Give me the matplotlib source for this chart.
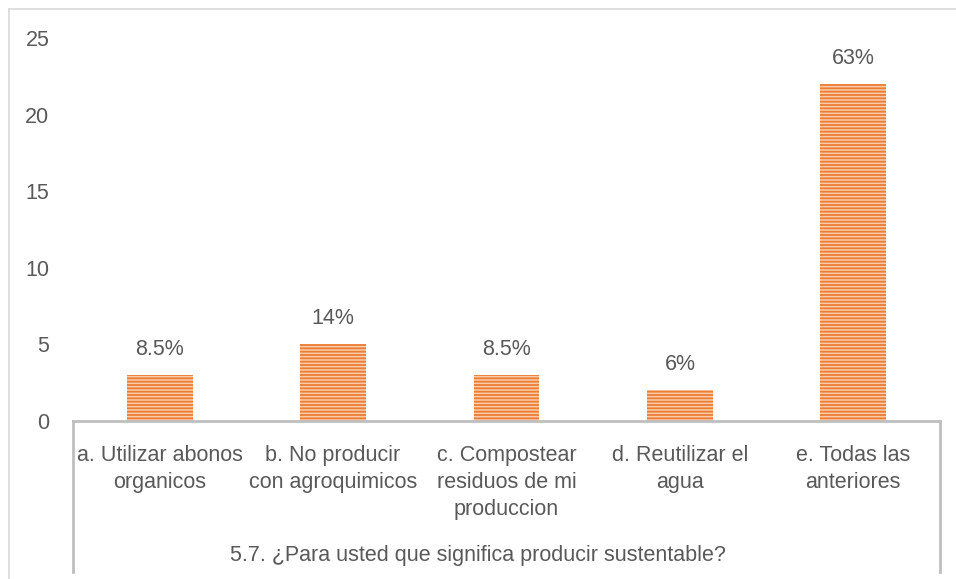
import matplotlib
matplotlib.use("Agg")
import matplotlib.pyplot as plt
from matplotlib.lines import Line2D

plt.rcParams["font.family"] = ["Liberation Sans Narrow", "Liberation Sans", "DejaVu Sans"]
plt.rcParams["hatch.linewidth"] = 1.3

categories = ["a. Utilizar abonos\norganicos",
              "b. No producir\ncon agroquimicos",
              "c. Compostear\nresiduos de mi\nproduccion",
              "d. Reutilizar el\nagua",
              "e. Todas las\nanteriores"]
values = [3, 5, 3, 2, 22]
pct_labels = ["8.5%", "14%", "8.5%", "6%", "63%"]
group_label = "5.7. ¿Para usted que significa producir sustentable?"
y_ticks = [0, 5, 10, 15, 20, 25]

TXT = "#595959"
AXC = "#BFBFBF"
W, H = 956, 579

fig = plt.figure(figsize=(W / 100, H / 100), dpi=100)
ax = fig.add_axes([73 / W, 1 - 421 / H, (940 - 73) / W, (421 - 38) / H])

x = list(range(len(values)))
ax.bar(x, values, width=0.38, color="#F8CBAD", edgecolor="#ED7D31",
       hatch="-----", linewidth=0, zorder=2)

for xi, v, lab in zip(x, values, pct_labels):
    ax.annotate(lab, xy=(xi, v), xytext=(0, 18.5), textcoords="offset points",
                ha="center", va="center", fontsize=15.5, color=TXT)

ax.set_xlim(-0.5, len(values) - 0.5)
ax.set_ylim(0, 25)
ax.set_yticks(y_ticks)
ax.set_xticks([])
ax.tick_params(axis="y", length=0, pad=17, labelsize=15.5, labelcolor=TXT)
for s in ["top", "right", "left"]:
    ax.spines[s].set_visible(False)
ax.spines["bottom"].set_color(AXC)
ax.spines["bottom"].set_linewidth(2)

# category labels (multi-level axis)
for xi, cat in zip(x, categories):
    ax.text(xi, -1.55, cat, ha="center", va="top", fontsize=15.5, color=TXT,
            linespacing=1.38)
ax.text(0.5, (H - 555) / H, group_label, transform=fig.transFigure,
        ha="center", va="center", fontsize=15.5, color=TXT)

# vertical separators of the multi-level axis
for px in (73, 940):
    fig.add_artist(Line2D([px / W, px / W], [1 - 421 / H, 1 - 572 / H],
                          transform=fig.transFigure, color=AXC, lw=2))

# outer chart frame
fig.add_artist(Line2D([9 / W, 9 / W], [1 - 9 / H, 0], transform=fig.transFigure,
                      color="#D9D9D9", lw=1.2))
fig.add_artist(Line2D([9 / W, 1], [1 - 9 / H, 1 - 9 / H], transform=fig.transFigure,
                      color="#D9D9D9", lw=1.2))

fig.savefig("out.png", dpi=100)
